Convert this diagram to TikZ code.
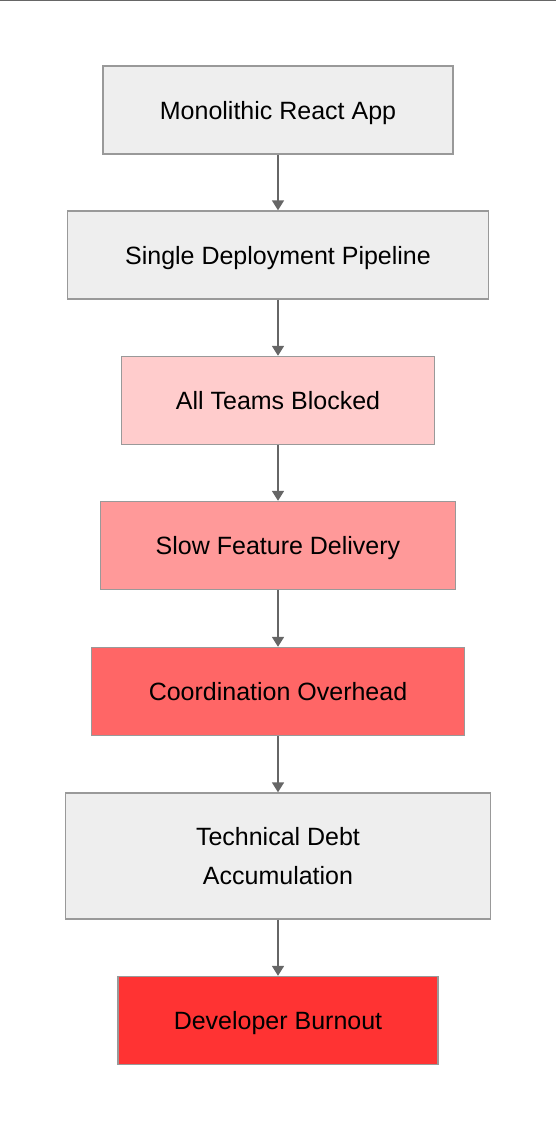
\documentclass[tikz,border=0pt]{standalone}
\usepackage{fontspec}
\setmainfont{Liberation Sans}
\usepackage{tikz}
\usetikzlibrary{arrows.meta}
\definecolor{boxgray}{HTML}{EEEEEE}
\definecolor{edgegray}{HTML}{999999}
\definecolor{linegray}{HTML}{666666}
\definecolor{redA}{HTML}{FFCCCC}
\definecolor{redB}{HTML}{FF9999}
\definecolor{redC}{HTML}{FF6666}
\definecolor{redD}{HTML}{FF3333}
\tikzset{
    stage/.style={draw=edgegray, line width=0.7pt, fill=boxgray, align=center,
        font=\fontsize{12.5}{19.6}\selectfont, inner sep=0pt, text depth=0pt},
    flow/.style={draw=linegray, line width=0.9pt, -{Triangle[length=5pt,width=6pt]}}
}
\begin{document}
\begin{tikzpicture}[x=0.5pt, y=-0.5pt]
    \useasboundingbox (0,0) rectangle (556,1130);
    \draw[linegray, line width=0.6pt] (0,0.5) -- (556,0.5);
    % chain of consequences
    \node[stage, minimum width=175pt, minimum height=44pt] (app) at (278,110) {Monolithic React App};
    \node[stage, minimum width=210.5pt, minimum height=44pt] (pipe) at (278,255) {Single Deployment Pipeline};
    \node[stage, fill=redA, minimum width=156.5pt, minimum height=44pt] (blocked) at (278,400.5) {All Teams Blocked};
    \node[stage, fill=redB, minimum width=177.5pt, minimum height=44pt] (slow) at (278,545.5) {Slow Feature Delivery};
    \node[stage, fill=redC, minimum width=186.5pt, minimum height=44pt] (coord) at (278,691.5) {Coordination Overhead};
    \node[stage, minimum width=212.5pt, minimum height=63pt] (debt) at (278,856) {Technical Debt\\ Accumulation};
    \node[stage, fill=redD, minimum width=160pt, minimum height=44pt] (burnout) at (278,1020.5) {Developer Burnout};
    \draw[flow] (app) -- (pipe);
    \draw[flow] (pipe) -- (blocked);
    \draw[flow] (blocked) -- (slow);
    \draw[flow] (slow) -- (coord);
    \draw[flow] (coord) -- (debt);
    \draw[flow] (debt) -- (burnout);
\end{tikzpicture}
\end{document}
